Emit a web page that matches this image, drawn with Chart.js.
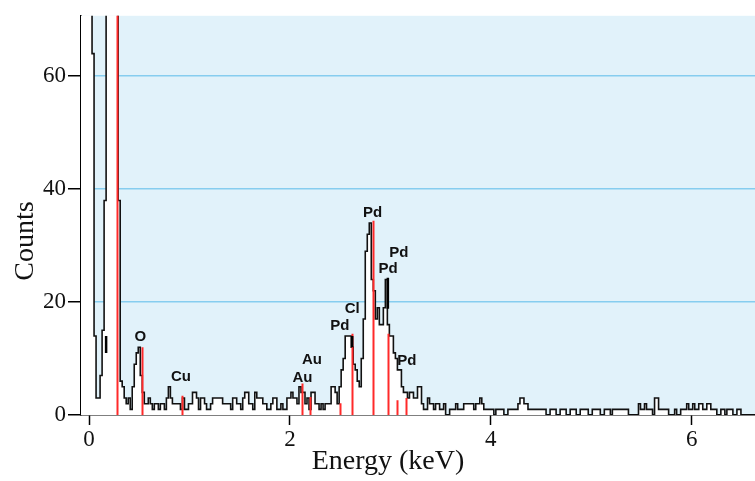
<!DOCTYPE html>
<html>
<head>
<meta charset="utf-8">
<script src="https://cdn.jsdelivr.net/npm/chart.js@4.4.1/dist/chart.umd.min.js"></script>
<style>
  html, body { margin: 0; padding: 0; background: #fff; }
  #wrap { width: 755px; height: 481px; }
</style>
</head>
<body>
<div id="wrap"><canvas id="myChart"></canvas></div>
<script>
const ctx = document.getElementById("myChart");

// spectrum channels, 0.02 keV wide, first one starts at -0.09 keV
const START_KEV = -0.09;
const CHANNEL_KEV = 0.02;
const counts = [
  24, 120, 120, 120, 120, 120, 120, 64, 14, 3,
  3, 7, 15, 38, 120, 120, 120, 120, 120, 120,
  38, 6, 5, 3, 2, 3, 1, 5, 9, 11,
  12, 7, 4, 2, 2, 3, 2, 1, 2, 2,
  1, 2, 2, 1, 3, 5, 3, 2, 2, 2,
  2, 1, 3, 1, 1, 2, 2, 4, 4, 3,
  1, 3, 3, 2, 1, 1, 2, 3, 3, 3,
  3, 3, 2, 2, 2, 2, 1, 3, 3, 2,
  2, 1, 3, 4, 4, 2, 2, 1, 4, 3,
  3, 3, 2, 2, 1, 1, 2, 3, 3, 1,
  1, 2, 1, 1, 3, 3, 4, 3, 3, 2,
  5, 4, 4, 2, 3, 1, 4, 4, 2, 2,
  1, 2, 1, 2, 2, 2, 5, 5, 4, 2,
  5, 8, 10, 14, 14, 14, 12, 9, 8, 6,
  5, 10, 17, 29, 32, 34, 24, 22, 17, 19,
  16, 16, 19, 24, 16, 14, 14, 11, 10, 8,
  8, 5, 4, 4, 3, 4, 4, 3, 3, 5,
  5, 2, 1, 1, 3, 2, 2, 1, 2, 2,
  1, 1, 2, 0, 0, 1, 1, 1, 2, 1,
  1, 1, 2, 2, 2, 2, 2, 1, 2, 2,
  3, 2, 1, 1, 1, 1, 1, 0, 1, 1,
  1, 1, 0, 0, 1, 1, 1, 1, 1, 2,
  3, 3, 2, 2, 1, 1, 1, 1, 1, 1,
  1, 1, 1, 0, 0, 1, 1, 1, 0, 0,
  1, 1, 1, 0, 0, 1, 1, 1, 0, 0,
  1, 1, 1, 1, 0, 0, 1, 1, 1, 1,
  0, 0, 1, 1, 1, 0, 1, 1, 1, 1,
  1, 1, 1, 1, 0, 0, 0, 0, 0, 2,
  1, 1, 2, 1, 1, 1, 0, 3, 3, 1,
  1, 1, 1, 1, 0, 0, 0, 1, 0, 0,
  1, 1, 1, 2, 1, 1, 2, 1, 1, 2,
  2, 1, 1, 2, 2, 1, 1, 1, 0, 0,
  1, 1, 0, 1, 1, 1, 0, 0, 1, 1,
  0, 0, 0, 0, 0, 0
];

// element marker lines (keV, height in counts)
const lineEnergies = [0.277, 0.525, 0.93, 2.12, 2.2, 2.495, 2.62, 2.823, 2.975, 3.065, 3.16];
const lineHeights = [200, 12, 3.4, 5.6, 3.2, 2.1, 14.4, 34.4, 14.4, 2.6, 3];
// element labels
const labelTexts = ["O", "Cu", "Au", "Au", "Pd", "Cl", "Pd", "Pd", "Pd", "Pd"];
const labelEnergies = [0.51, 0.915, 2.125, 2.22, 2.497, 2.62, 2.823, 2.978, 3.085, 3.164];
const labelCounts = [13.9, 6.7, 6.6, 9.7, 15.7, 18.8, 35.8, 25.9, 28.8, 9.6];
// short black markers
const markEnergies = [0.17, 2.62, 2.975];
const markTop = [14, 14, 24.3];
const markBottom = [11, 12, 18.8];

const xTicks = [0, 2, 4, 6];
const yTicks = [0, 20, 40, 60];
const xTitle = "Energy (keV)";
const yTitle = "Counts";

var points = counts.map(function (c, i) {
  return { x: START_KEV + CHANNEL_KEV * i, y: c };
});
points.push({ x: START_KEV + CHANNEL_KEV * counts.length, y: counts[counts.length - 1] });

var serif = "'Liberation Serif', 'Times New Roman', serif";

// light blue plot background
const bgPlugin = {
  id: "bg",
  beforeDraw: function (chart) {
    var a = chart.chartArea;
    var c = chart.ctx;
    c.save();
    c.fillStyle = "#e1f2fa";
    c.fillRect(a.left, a.top, a.right - a.left, a.bottom - a.top);
    c.restore();
  },
};

// red lines, black marks and labels
const markerPlugin = {
  id: "markers",
  afterDatasetsDraw: function (chart) {
    var c = chart.ctx;
    var xs = chart.scales.x;
    var ys = chart.scales.y;
    var a = chart.chartArea;
    c.save();
    c.beginPath();
    c.rect(a.left, a.top, a.right - a.left, a.bottom - a.top);
    c.clip();
    c.strokeStyle = "#ff2a2a";
    c.lineWidth = 2;
    lineEnergies.forEach(function (e, i) {
      var px = Math.round(xs.getPixelForValue(e)) + 0.5;
      c.beginPath();
      c.moveTo(px, ys.getPixelForValue(0));
      c.lineTo(px, ys.getPixelForValue(lineHeights[i]));
      c.stroke();
    });
    c.strokeStyle = "#000";
    c.lineWidth = 2.5;
    markEnergies.forEach(function (e, i) {
      var px = xs.getPixelForValue(e);
      c.beginPath();
      c.moveTo(px, ys.getPixelForValue(markBottom[i]));
      c.lineTo(px, ys.getPixelForValue(markTop[i]));
      c.stroke();
    });
    c.fillStyle = "#111";
    c.font = "bold 15px 'Liberation Sans', Arial, sans-serif";
    c.textAlign = "center";
    c.textBaseline = "middle";
    labelTexts.forEach(function (t, i) {
      c.fillText(t, xs.getPixelForValue(labelEnergies[i]), ys.getPixelForValue(labelCounts[i]));
    });
    c.restore();
  },
};

// axis titles, placed like the original figure
const titlePlugin = {
  id: "titles",
  afterDraw: function (chart) {
    var c = chart.ctx;
    c.save();
    c.fillStyle = "#111";
    c.font = "28px " + serif;
    c.textAlign = "center";
    c.textBaseline = "middle";
    c.fillText(xTitle, 388, 462);
    c.translate(26, 241);
    c.rotate(-Math.PI / 2);
    c.fillText(yTitle, 0, 0);
    c.restore();
  },
};

new Chart(ctx, {
  type: "line",
  data: {
    datasets: [
      {
        label: "Spectrum",
        data: points,
        stepped: "after",
        borderColor: "#111",
        borderWidth: 1.6,
        pointRadius: 0,
        fill: "origin",
        backgroundColor: "#ffffff",
      },
    ],
  },
  options: {
    responsive: true,
    maintainAspectRatio: false,
    animation: false,
    layout: { padding: { top: 13, right: 0, left: 0, bottom: 0 } },
    plugins: {
      legend: { display: false },
      tooltip: { enabled: false },
    },
    scales: {
      x: {
        type: "linear",
        min: -0.08,
        max: 6.63,
        afterBuildTicks: function (axis) {
          axis.ticks = xTicks.map(function (v) { return { value: v }; });
        },
        afterFit: function (scale) { scale.height = 66; },
        border: { display: true, color: "#000", width: 1.5 },
        grid: { drawOnChartArea: false, drawTicks: true, tickLength: 10, tickColor: "#000", tickWidth: 1.5 },
        ticks: {
          color: "#111",
          padding: 1,
          maxRotation: 0,
          font: { family: serif, size: 23 },
        },
      },
      y: {
        min: 0,
        max: 70.7,
        afterBuildTicks: function (axis) {
          axis.ticks = yTicks.map(function (v) { return { value: v }; });
        },
        afterFit: function (scale) { scale.width = 81; },
        border: { display: true, color: "#000", width: 1.5 },
        grid: {
          color: function (c) { return c.tick && c.tick.value === 0 ? "rgba(0,0,0,0)" : "#86cdef"; },
          lineWidth: 1.5,
          drawTicks: true,
          tickLength: 13,
          tickColor: "#000",
          tickWidth: 1.5,
        },
        ticks: {
          color: "#111",
          padding: 2,
          font: { family: serif, size: 23 },
        },
      },
    },
  },
  plugins: [bgPlugin, markerPlugin, titlePlugin],
});
</script>
</body>
</html>
